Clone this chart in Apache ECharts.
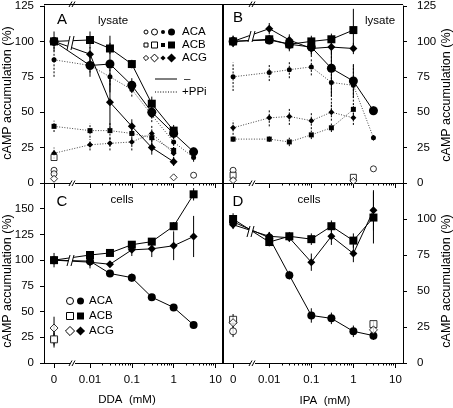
<!DOCTYPE html>
<html><head><meta charset="utf-8">
<script src="https://cdn.jsdelivr.net/npm/echarts@6/dist/echarts.min.js"></script>
<style>html,body{margin:0;padding:0;background:#fff}#c{width:453px;height:408px}</style>
</head><body><div id="c"></div>
<script>
// ---------- data ----------
const conc = [0, 0.01, 0.03, 0.1, 0.3, 1, 3];
const X_TICK_VALUES = [0, 0.01, 0.1, 1, 10];
const X_TICK_LABELS = ['0', '0.01', '0.1', '1', '10'];

// Panel A: lysate, DDA
const A_ACA_minus = [100, 83, 84, 69, 50, 35, 22];
const A_ACA_minus_err = [0, 8, 20, 5, 4, 4, 3];
const A_ACB_minus = [100, 101, 95, 84, 56, 37, null];
const A_ACB_minus_err = [7, 6, 4, 3, 5, 4, null];
const A_ACG_minus = [100, 91, 57, 40, 25, 15, null];
const A_ACG_minus_err = [0, 5, 18, 5, 5, 3, null];
const A_ACA_ppi = [87, 83, 75, 66, 48, 29, 18];
const A_ACA_ppi_err = [12, 5, 6, 5, 5, 5, 3];
const A_ACB_ppi = [40, 37, 37, 35, 32, 23, null];
const A_ACB_ppi_err = [4, 5, 6, 6, 5, 4, null];
const A_ACG_ppi = [21, 27, 28, 29, 35, 21, null];
const A_ACG_ppi_err = [4, 4, 5, 6, 6, 4, null];
const A_openACA_x = [0, 0, 3], A_openACA_y = [9, 6.5, 5.5];
const A_openACB_x = [0], A_openACB_y = [18];
const A_openACG_x = [0, 1], A_openACG_y = [3, 4];

// Panel B: lysate, IPA
const B_ACA_minus = [100, 101, 98, 96, 81, 72, 51];
const B_ACA_minus_err = [0, 3, 4, 5, 20, 12, 3];
const B_ACB_minus = [100, 101.5, 98, 100, 101.5, 108, null];
const B_ACB_minus_err = [4, 3, 5, 4, 4, 15, null];
const B_ACG_minus = [100, 109, 101, 95, 96, 95, null];
const B_ACG_minus_err = [4, 4, 4, 6, 5, 4, null];
const B_ACA_ppi = [75, 78, 80, 82, 71, 69, 32];
const B_ACA_ppi_err = [10, 6, 6, 6, 20, 14, 2];
const B_ACB_ppi = [31, 31, 29, 34, 39, 52, null];
const B_ACB_ppi_err = [2, 2, 3, 3, 3, 4, null];
const B_ACG_ppi = [39, 46, 47, 44, 50, 46, null];
const B_ACG_ppi_err = [5, 6, 6, 6, 6, 5, null];
const B_openACA_x = [0, 3], B_openACA_y = [9, 10];
const B_openACB_x = [0, 1], B_openACB_y = [5.5, 4];
const B_openACG_x = [0, 1], B_openACG_y = [2, 1.5];

// Panel C: cells, DDA
const C_ACA = [100, 99, 87, 83, 64, 54, 37];
const C_ACA_err = [0, 3, 3, 4, 3, 3, 3];
const C_ACB = [100, 105, 107, 115, 118, 133, 164];
const C_ACB_err = [7, 3, 3, 3, 3, 4, 6];
const C_ACG = [100, 98, 96, 110, 111, 114, 123];
const C_ACG_err = [0, 6, 3, 6, 8, 14, 20];
const C_openACA_x = [0], C_openACA_y = [23], C_openACA_err = [6];
const C_openACB_x = [0], C_openACB_y = [23], C_openACB_err = [8];
const C_openACG_x = [0], C_openACG_y = [34], C_openACG_err = [11];

// Panel D: cells, IPA
const D_ACA = [98, 87, 61, 33, 31, 22, 19];
const D_ACA_err = [3, 4, 3, 5, 4, 4, 3];
const D_ACB = [100, 84, 88, 86, 95, 85, 101];
const D_ACB_err = [4, 3, 3, 4, 4, 5, 18];
const D_ACG = [96, 88, 87, 70, 88, 76, 106];
const D_ACG_err = [3, 3, 3, 6, 6, 6, 14];
const D_openACA_x = [0], D_openACA_y = [22], D_openACA_err = [4];
const D_openACB_x = [0, 3], D_openACB_y = [30, 27], D_openACB_err = [4, 2];
const D_openACG_x = [0, 3], D_openACG_y = [28, 23], D_openACG_err = [4, 2];

// ---------- scale helpers ----------
const ZERO_POS = -2.86, XMIN = -3.1, XMAX = 1.18;
const xpos = c => c === 0 ? ZERO_POS : Math.log10(c);
const MAJOR_POS = X_TICK_VALUES.map(xpos);
const MINOR_POS = [];
[0.01, 0.1, 1].forEach(d => { for (let k = 2; k <= 9; k++) MINOR_POS.push(Math.log10(d * k)); });

const FONT = 'Liberation Sans, Arial, Helvetica, sans-serif';
const grids = [
  {left: 44, top: 4, width: 179, height: 179},
  {left: 223, top: 4, width: 180, height: 179},
  {left: 44, top: 183, width: 179, height: 180},
  {left: 223, top: 183, width: 180, height: 180}
];
const xAxes = [], yAxes = [];
grids.forEach((g, gi) => {
  const showLab = gi >= 2;
  xAxes.push({type: 'value', gridIndex: gi, min: XMIN, max: XMAX, position: 'bottom',
    axisLine: {show: true, onZero: false, lineStyle: {color: '#000', width: 1}},
    axisTick: {show: true, length: 5, customValues: MAJOR_POS, lineStyle: {color: '#000'}},
    axisLabel: {show: showLab, customValues: MAJOR_POS, color: '#000', fontSize: 11.5, fontFamily: FONT, margin: 11,
      formatter: v => { const i = MAJOR_POS.findIndex(p => Math.abs(p - v) < 1e-6); return i >= 0 ? X_TICK_LABELS[i] : ''; }},
    splitLine: {show: false}});
  xAxes.push({type: 'value', gridIndex: gi, min: XMIN, max: XMAX, position: 'bottom',
    axisLine: {show: false, onZero: false},
    axisTick: {show: true, length: 2.5, customValues: MINOR_POS, lineStyle: {color: '#000'}},
    axisLabel: {show: false}, splitLine: {show: false}});
  const right = gi % 2 === 1;
  const max = gi === 2 ? 175 : 125;
  const hideTop = gi >= 2;
  yAxes.push({type: 'value', gridIndex: gi, min: 0, max: max, interval: 25, position: right ? 'right' : 'left',
    axisLine: {show: true, onZero: false, lineStyle: {color: '#000', width: 1}},
    axisTick: {show: true, length: 4, lineStyle: {color: '#000'}},
    axisLabel: {color: '#000', fontSize: 11.5, fontFamily: FONT, margin: right ? 14 : 10,
      formatter: v => (hideTop && v === max) ? '' : String(v)},
    splitLine: {show: false}});
});

const series = [];
function lineSeries(gi, vals, symbol, size, dotted) {
  const data = [];
  conc.forEach((c, k) => { if (vals[k] != null) data.push([xpos(c), vals[k]]); });
  series.push({type: 'line', xAxisIndex: gi * 2, yAxisIndex: gi, data, symbol, symbolSize: size,
    z: dotted ? 3 : 4, silent: true, animation: false,
    lineStyle: dotted ? {color: '#444', width: 1, type: [1, 1.6]} : {color: '#000', width: 1},
    itemStyle: {color: '#000', borderWidth: 0}});
}
function errSeries(gi, xs, vals, errs, dashed) {
  const data = [];
  xs.forEach((c, k) => { if (vals[k] != null && errs[k]) data.push([xpos(c), vals[k] - errs[k], vals[k] + errs[k]]); });
  series.push({type: 'custom', xAxisIndex: gi * 2, yAxisIndex: gi, z: 2, silent: true, animation: false,
    renderItem(params, api) {
      const p1 = api.coord([api.value(0), api.value(1)]);
      const p2 = api.coord([api.value(0), api.value(2)]);
      return {type: 'line', shape: {x1: p1[0], y1: p1[1], x2: p2[0], y2: p2[1]},
        style: {stroke: '#000', lineWidth: 1, lineDash: dashed ? [2, 1.5] : null}};
    },
    encode: {x: 0, y: [1, 2]}, data});
}
function openSeries(gi, xs, ys, symbol, size) {
  series.push({type: 'scatter', xAxisIndex: gi * 2, yAxisIndex: gi, symbol, symbolSize: size, z: 5, silent: true,
    animation: false, data: xs.map((c, k) => [xpos(c), ys[k]]),
    itemStyle: {color: '#fff', borderColor: '#000', borderWidth: 1}});
}
// A
errSeries(0, conc, A_ACA_minus, A_ACA_minus_err); errSeries(0, conc, A_ACB_minus, A_ACB_minus_err); errSeries(0, conc, A_ACG_minus, A_ACG_minus_err);
errSeries(0, conc, A_ACA_ppi, A_ACA_ppi_err, true); errSeries(0, conc, A_ACB_ppi, A_ACB_ppi_err, true); errSeries(0, conc, A_ACG_ppi, A_ACG_ppi_err, true);
lineSeries(0, A_ACA_ppi, 'circle', 5, true); lineSeries(0, A_ACB_ppi, 'rect', 5, true); lineSeries(0, A_ACG_ppi, 'diamond', 6, true);
lineSeries(0, A_ACA_minus, 'circle', 9); lineSeries(0, A_ACB_minus, 'rect', 8); lineSeries(0, A_ACG_minus, 'diamond', 8);
openSeries(0, A_openACA_x, A_openACA_y, 'circle', 6); openSeries(0, A_openACB_x, A_openACB_y, 'rect', 6); openSeries(0, A_openACG_x, A_openACG_y, 'diamond', 7);
// B
errSeries(1, conc, B_ACA_minus, B_ACA_minus_err); errSeries(1, conc, B_ACB_minus, B_ACB_minus_err); errSeries(1, conc, B_ACG_minus, B_ACG_minus_err);
errSeries(1, conc, B_ACA_ppi, B_ACA_ppi_err, true); errSeries(1, conc, B_ACB_ppi, B_ACB_ppi_err, true); errSeries(1, conc, B_ACG_ppi, B_ACG_ppi_err, true);
lineSeries(1, B_ACA_ppi, 'circle', 5, true); lineSeries(1, B_ACB_ppi, 'rect', 5, true); lineSeries(1, B_ACG_ppi, 'diamond', 6, true);
lineSeries(1, B_ACA_minus, 'circle', 9); lineSeries(1, B_ACB_minus, 'rect', 8); lineSeries(1, B_ACG_minus, 'diamond', 8);
openSeries(1, B_openACA_x, B_openACA_y, 'circle', 6); openSeries(1, B_openACB_x, B_openACB_y, 'rect', 6); openSeries(1, B_openACG_x, B_openACG_y, 'diamond', 7);
// C
errSeries(2, conc, C_ACA, C_ACA_err); errSeries(2, conc, C_ACB, C_ACB_err); errSeries(2, conc, C_ACG, C_ACG_err);
errSeries(2, C_openACA_x, C_openACA_y, C_openACA_err); errSeries(2, C_openACB_x, C_openACB_y, C_openACB_err); errSeries(2, C_openACG_x, C_openACG_y, C_openACG_err);
lineSeries(2, C_ACA, 'circle', 8); lineSeries(2, C_ACB, 'rect', 8); lineSeries(2, C_ACG, 'diamond', 8);
openSeries(2, C_openACA_x, C_openACA_y, 'circle', 7); openSeries(2, C_openACB_x, C_openACB_y, 'rect', 7); openSeries(2, C_openACG_x, C_openACG_y, 'diamond', 8);
// D
errSeries(3, conc, D_ACA, D_ACA_err); errSeries(3, conc, D_ACB, D_ACB_err); errSeries(3, conc, D_ACG, D_ACG_err);
errSeries(3, D_openACA_x, D_openACA_y, D_openACA_err); errSeries(3, D_openACB_x, D_openACB_y, D_openACB_err); errSeries(3, D_openACG_x, D_openACG_y, D_openACG_err);
lineSeries(3, D_ACA, 'circle', 8); lineSeries(3, D_ACB, 'rect', 8); lineSeries(3, D_ACG, 'diamond', 8);
openSeries(3, D_openACA_x, D_openACA_y, 'circle', 7); openSeries(3, D_openACB_x, D_openACB_y, 'rect', 7); openSeries(3, D_openACG_x, D_openACG_y, 'diamond', 8);

// ---------- decorations ----------
const G = [];
const txt = (x, y, s, size, opt) => G.push(Object.assign({type: 'text', x, y, z: 100,
  style: {text: s, fill: '#000', font: size + 'px ' + FONT, textAlign: 'center', textVerticalAlign: 'middle'}}, opt || {}));
const ln = (x1, y1, x2, y2, w, dash) => G.push({type: 'line', z: 100, shape: {x1, y1, x2, y2},
  style: {stroke: '#000', lineWidth: w || 1, lineDash: dash || null}});
// frame lines
ln(44, 4.5, 403, 4.5, 1);
ln(223, 4, 223, 363, 2);
// axis break marks
function brk(x, y) {
  G.push({type: 'rect', z: 99, shape: {x: x - 3, y: y - 2, width: 5, height: 4}, style: {fill: '#fff'}});
  ln(x - 4, y + 2.5, x - 1, y - 3); ln(x - 1, y + 2.5, x + 2, y - 3);
}
brk(73, 4.5); brk(253, 4.5); brk(73, 183.5); brk(253, 183.5); brk(73, 363.5); brk(253, 363.5);
// data line breaks
function dbrk(x, y1, y2) {
  G.push({type: 'polygon', z: 99, shape: {points: [[x - 4, y2], [x - 1, y1], [x + 3, y1], [x, y2]]}, style: {fill: '#fff'}});
  ln(x - 4, y2, x - 1, y1); ln(x, y2, x + 3, y1);
}
dbrk(71, 36, 50); dbrk(252, 31, 42); dbrk(71, 255, 266); dbrk(251, 226, 237);
// panel labels
txt(62, 20, 'A', 15); txt(113, 21, 'lysate', 11.5);
txt(238, 18, 'B', 15); txt(380, 21, 'lysate', 11.5);
txt(62, 202, 'C', 15); txt(122, 200, 'cells', 11.5);
txt(238, 202, 'D', 15); txt(309, 200, 'cells', 11.5);
// axis titles
txt(127, 400, 'DDA  (mM)', 11.5); txt(325, 401, 'IPA  (mM)', 11.5);
txt(8, 93, 'cAMP accumulation (%)', 12.5, {rotation: Math.PI / 2});
txt(8, 281, 'cAMP accumulation (%)', 12.5, {rotation: Math.PI / 2});
txt(447, 95, 'cAMP accumulation (%)', 12.5, {rotation: Math.PI / 2});
txt(447, 281, 'cAMP accumulation (%)', 12.5, {rotation: Math.PI / 2});
// legend symbols
function sym(kind, cx, cy, r, filled) {
  const st = filled ? {fill: '#000'} : {fill: '#fff', stroke: '#000', lineWidth: 1};
  if (kind === 'circle') G.push({type: 'circle', z: 100, shape: {cx, cy, r}, style: st});
  else if (kind === 'rect') G.push({type: 'rect', z: 100, shape: {x: cx - r, y: cy - r, width: 2 * r, height: 2 * r}, style: st});
  else G.push({type: 'polygon', z: 100, shape: {points: [[cx, cy - r * 1.3], [cx + r * 1.3, cy], [cx, cy + r * 1.3], [cx - r * 1.3, cy]]}, style: st});
}
const LEG = [['circle', 'ACA'], ['rect', 'ACB'], ['diamond', 'ACG']];
const leftText = (x, y, s) => txt(x, y, s, 11.5, {style: {text: s, fill: '#000', font: '11.5px ' + FONT, textAlign: 'left', textVerticalAlign: 'middle'}});
const legA_y = [32, 45, 58];
LEG.forEach((l, i) => {
  const y = legA_y[i];
  sym(l[0], 146, y, 2, false); sym(l[0], 154.5, y, 3, false); sym(l[0], 163, y, 2, true); sym(l[0], 171.5, y, 3.5, true);
  leftText(182, y, l[1]);
});
ln(155, 79, 177, 79, 1); leftText(184, 79, '–');
ln(155, 92, 177, 92, 1, [1, 1.6]); leftText(182, 92, '+PPi');
const legC_y = [301, 316, 331];
LEG.forEach((l, i) => {
  const y = legC_y[i];
  sym(l[0], 70, y, 3.5, false); sym(l[0], 80.5, y, 3.5, true);
  leftText(89, y, l[1]);
});

const chart = echarts.init(document.getElementById('c'), null, {renderer: 'canvas'});
chart.setOption({animation: false, grid: grids, xAxis: xAxes, yAxis: yAxes, series, graphic: G});
</script></body></html>
